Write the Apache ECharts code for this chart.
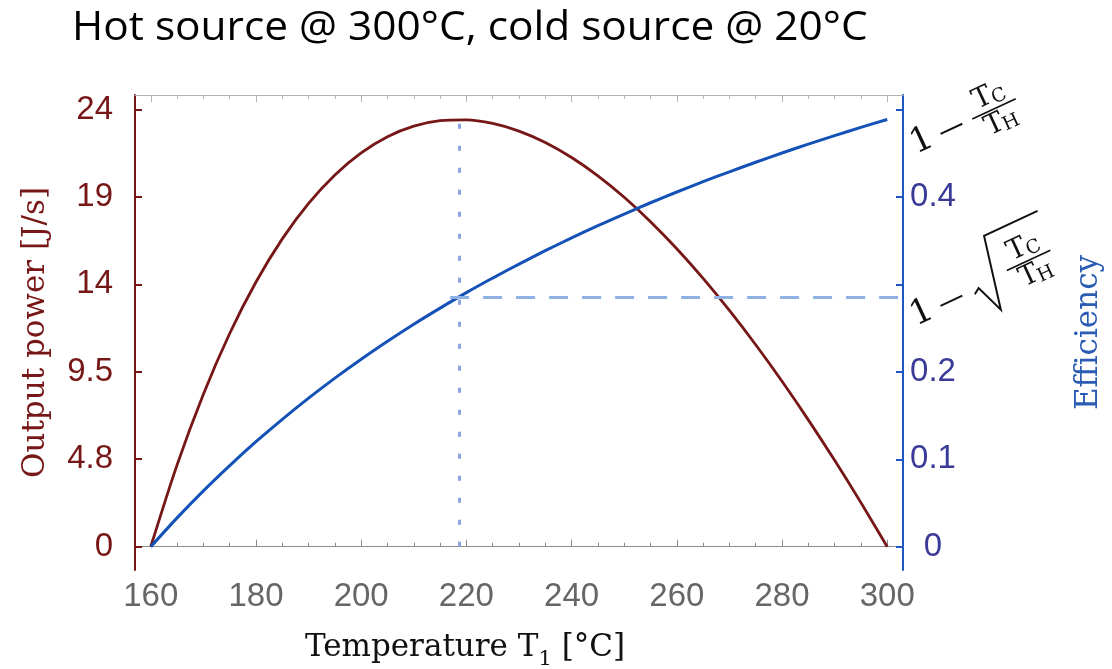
<!DOCTYPE html>
<html>
<head>
<meta charset="utf-8">
<title>Hot source @ 300°C, cold source @ 20°C</title>
<script src="https://cdn.jsdelivr.net/npm/echarts@6/dist/echarts.min.js"></script>
<style>
  html, body { margin: 0; padding: 0; background: #fff; }
  #main { width: 1112px; height: 669px; }
</style>
</head>
<body>
<div id="main"></div>
<script>
// temperature of the working fluid on the hot side, °C
var temps = [160, 165, 170, 175, 180, 185, 190, 195, 200, 205, 210, 215, 220, 225, 230,
             235, 240, 245, 250, 255, 260, 265, 270, 275, 280, 285, 290, 295, 300];
// output power, J/s
var power = [0, 4.453, 8.303, 11.605, 14.408, 16.757, 18.689, 20.240, 21.439, 22.316, 22.892, 23.192, 23.236, 23.041, 22.625,
             22.002, 21.185, 20.188, 19.022, 17.696, 16.222, 14.608, 12.862, 10.991, 9.003, 6.904, 4.700, 2.397, 0];
// efficiency
var efficiency = [0, 0.0330, 0.0639, 0.0928, 0.1201, 0.1457, 0.1699, 0.1928, 0.2144, 0.2349, 0.2544, 0.2728, 0.2905, 0.3072, 0.3232,
                  0.3385, 0.3531, 0.3671, 0.3804, 0.3933, 0.4056, 0.4174, 0.4287, 0.4396, 0.4502, 0.4603, 0.4700, 0.4795, 0.4885];

var xMajorTicks = [160, 180, 200, 220, 240, 260, 280, 300];
var xMinorTicks = [165, 170, 175, 185, 190, 195, 205, 210, 215, 225, 230, 235,
                   245, 250, 255, 265, 270, 275, 285, 290, 295];
var powerTicks = [0, 4.76, 9.52, 14.28, 19.04, 23.8];
var powerTickLabels = ['0', '4.8', '9.5', '14', '19', '24'];
var effTicks = [0, 0.1, 0.2, 0.3, 0.4, 0.5];
var effTickLabels = ['0', '0.1', '0.2', '', '0.4', ''];

// max power point and Curzon-Ahlborn efficiency
var optimumT = 218.6;
var optimumLineTop = 23.5;
var caEfficiency = 0.285;
var dashStartT = 216.9;

var darkRed = '#761616';
var lineBlue = '#1452b8';
var axisBlue = '#1d58c2';
var labelBlue = '#3a3a98';
var ink = '#111';
var serif = 'DejaVu Serif';
var sans = 'Liberation Sans, Arial, sans-serif';

function pick(values, labels, v) {
    for (var i = 0; i < values.length; i++) {
        if (Math.abs(values[i] - v) < 1e-6) return labels[i];
    }
    return '';
}

var chart = echarts.init(document.getElementById('main'));

var xBase = {
    type: 'value', min: 157, max: 303,
    splitLine: { show: false },
    axisLabel: { show: false }
};

var option = {
    animation: false,
    grid: { left: 135, right: 209, top: 95, bottom: 99, containLabel: false, outerBoundsMode: 'none' },
    xAxis: [
        echarts.util.merge({
            position: 'bottom',
            axisLine: { lineStyle: { color: '#8c8c8c', width: 1 } },
            axisTick: { inside: true, length: 7, customValues: xMajorTicks, lineStyle: { color: '#8c8c8c' } },
            axisLabel: { show: true, customValues: xMajorTicks, margin: 10, fontSize: 33, fontFamily: sans, color: '#666' }
        }, xBase, false),
        echarts.util.merge({
            position: 'bottom',
            axisLine: { show: false },
            axisTick: { inside: true, length: 4, customValues: xMinorTicks, lineStyle: { color: '#8c8c8c' } }
        }, xBase, false),
        echarts.util.merge({
            position: 'top',
            axisLine: { lineStyle: { color: '#b4b4b4', width: 1 } },
            axisTick: { inside: true, length: 7, customValues: xMajorTicks, lineStyle: { color: '#b4b4b4' } }
        }, xBase, false),
        echarts.util.merge({
            position: 'top',
            axisLine: { show: false },
            axisTick: { inside: true, length: 4, customValues: xMinorTicks, lineStyle: { color: '#b4b4b4' } }
        }, xBase, false)
    ],
    yAxis: [
        {
            type: 'value', position: 'left', min: -1.27, max: 24.59,
            splitLine: { show: false },
            axisLine: { show: true, lineStyle: { color: darkRed, width: 2 } },
            axisTick: { show: true, inside: true, length: 7, customValues: powerTicks, lineStyle: { color: darkRed, width: 2 } },
            axisLabel: {
                customValues: powerTicks,
                formatter: function (v) { return pick(powerTicks, powerTickLabels, v); },
                align: 'right', margin: 22, fontSize: 33, fontFamily: sans, color: darkRed
            },
            name: 'Output power [J/s]', nameLocation: 'middle', nameRotate: 90, nameGap: 84,
            nameTextStyle: { fontFamily: serif, fontSize: 31, color: darkRed }
        },
        {
            type: 'value', position: 'right', min: -0.0266, max: 0.5165,
            splitLine: { show: false },
            axisLine: { show: true, lineStyle: { color: axisBlue, width: 2 } },
            axisTick: { show: true, inside: true, length: 7, customValues: effTicks, lineStyle: { color: axisBlue, width: 2 } },
            axisLabel: {
                customValues: effTicks,
                formatter: function (v) { return pick(effTicks, effTickLabels, v); },
                align: 'center', margin: 30, fontSize: 33, fontFamily: sans, color: labelBlue
            },
            name: 'Efficiency', nameLocation: 'middle', nameRotate: 90, nameGap: 170,
            nameTextStyle: { fontFamily: serif, fontSize: 31, color: '#2a5cb4' }
        }
    ],
    series: [
        {
            name: 'Output power', type: 'line', xAxisIndex: 0, yAxisIndex: 0,
            data: temps.map(function (t, i) { return [t, power[i]]; }),
            smooth: 0.3, showSymbol: false,
            lineStyle: { color: darkRed, width: 2.8 },
            markLine: {
                silent: true, symbol: ['none', 'none'], label: { show: false },
                lineStyle: { color: '#8aa5e0', width: 3, type: [5, 17] },
                data: [[{ coord: [optimumT, 0] }, { coord: [optimumT, optimumLineTop] }]]
            }
        },
        {
            name: 'Efficiency', type: 'line', xAxisIndex: 0, yAxisIndex: 1,
            data: temps.map(function (t, i) { return [t, efficiency[i]]; }),
            smooth: 0.3, showSymbol: false,
            lineStyle: { color: lineBlue, width: 3 },
            markLine: {
                silent: true, symbol: ['none', 'none'], label: { show: false },
                lineStyle: { color: '#8fb0e2', width: 3, type: [19, 14] },
                data: [[{ coord: [dashStartT, caEfficiency] }, { coord: [303, caEfficiency] }]]
            }
        }
    ]
};
chart.setOption(option);

// formula labels next to the efficiency axis
function tSub(cx, cy, sub) {
    return [
        { type: 'text', x: cx - 6, y: cy, style: { text: 'T', fontSize: 28, fontFamily: serif, fill: ink, align: 'center', verticalAlign: 'middle' } },
        { type: 'text', x: cx + 10, y: cy + 5, style: { text: sub, fontSize: 19, fontFamily: serif, fill: ink, align: 'center', verticalAlign: 'middle' } }
    ];
}

function formula(x, y, withRoot) {
    var fx = withRoot ? 119 : 79;
    var bar = withRoot ? -3 : 1;
    var kids = [
        { type: 'text', x: 0, y: 0, style: { text: '1', fontSize: 34, fontFamily: serif, fill: ink, align: 'center', verticalAlign: 'middle' } },
        { type: 'line', shape: { x1: 20, y1: 1, x2: 44, y2: 1 }, style: { stroke: ink, lineWidth: 2 } },
        { type: 'line', shape: { x1: fx - 24, y1: bar, x2: fx + 24, y2: bar }, style: { stroke: ink, lineWidth: 1.7 } }
    ];
    kids = kids.concat(tSub(fx, bar - 14, 'C'), tSub(fx, bar + 15, 'H'));
    if (withRoot) {
        kids.push({
            type: 'polyline',
            shape: { points: [[56, 5], [62, 1], [73, 30], [89, -44], [148, -44]] },
            style: { stroke: ink, lineWidth: 2, fill: null }
        });
    }
    return { type: 'group', x: x, y: y, rotation: 25 * Math.PI / 180, silent: true, children: kids };
}

var rightX = chart.convertToPixel({ xAxisIndex: 0 }, 303);
chart.setOption({
    graphic: [
        {
            type: 'text', x: 72, y: 29, scaleX: 1.06, silent: true,
            style: {
                text: 'Hot source @ 300°C, cold source @ 20°C',
                fontSize: 40, fontFamily: 'Open Sans', fill: '#000',
                align: 'left', verticalAlign: 'middle'
            }
        },
        formula(rightX + 19, chart.convertToPixel({ yAxisIndex: 1 }, 0.5) + 32, false),
        formula(rightX + 19, chart.convertToPixel({ yAxisIndex: 1 }, 0.3) + 29, true),
        {
            type: 'text', x: 465, y: 648, silent: true,
            style: {
                text: 'Temperature T{sub|1} [°C]',
                fontSize: 31, fontFamily: serif, fill: ink,
                align: 'center', verticalAlign: 'middle',
                rich: { sub: { fontSize: 21, fontFamily: serif, verticalAlign: 'bottom', lineHeight: 44 } }
            }
        }
    ]
});
</script>
</body>
</html>
